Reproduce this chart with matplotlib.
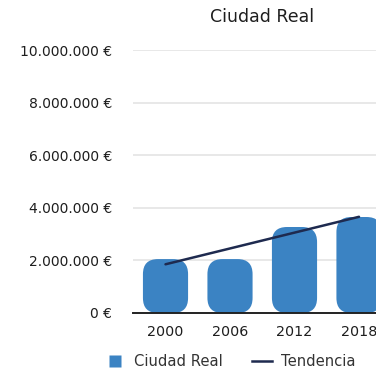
import numpy as np
import matplotlib
matplotlib.use("Agg")
import matplotlib.pyplot as plt
from matplotlib.patches import FancyBboxPatch
from matplotlib.lines import Line2D
from matplotlib.ticker import FuncFormatter

years = ["2000", "2006", "2012", "2018"]
values = [2050000, 2050000, 3270000, 3650000]
series_name = "Ciudad Real"
trend_name = "Tendencia"
title = "Ciudad Real"
y_ticks = [0, 2000000, 4000000, 6000000, 8000000, 10000000]

bar_color = "#3b83c3"
trend_color = "#1e2a4f"
text_color = "#1e1e1e"

plt.rcParams["font.family"] = ["DejaVu Sans"]

fig = plt.figure(figsize=(3.76, 3.74), dpi=100)
ax_left, ax_right = 133, 391.5
ax = fig.add_axes([ax_left / 376, 1 - 313 / 374, (ax_right - ax_left) / 376, 263 / 374])

x = np.arange(len(years))
ax.set_xlim(-0.504, len(years) - 1 + 0.504)
ax.set_ylim(0, 10000000)

# rounded bars
bar_w = 0.70
px_x = (ax_right - ax_left) / (ax.get_xlim()[1] - ax.get_xlim()[0])
px_y = 263 / 10000000
aspect = px_x / px_y
radius_px = 15
for xi, v in zip(x, values):
    patch = FancyBboxPatch((xi - bar_w / 2, 0), bar_w, v,
                           boxstyle=f"round,pad=0,rounding_size={radius_px / px_x}",
                           mutation_aspect=aspect,
                           facecolor=bar_color, edgecolor="none", zorder=2)
    ax.add_patch(patch)

# linear trend through the bar values
coef = np.polyfit(x, values, 1)
ax.plot([x[0], x[-1]], np.polyval(coef, [x[0], x[-1]]), color=trend_color,
        lw=1.8, zorder=3, solid_capstyle="round")

ax.set_yticks(y_ticks)
ax.yaxis.set_major_formatter(FuncFormatter(lambda v, p: f"{int(v):,} €".replace(",", ".")))
ax.set_xticks(x)
ax.set_xticklabels(years)
ax.tick_params(axis="both", length=0, colors=text_color)
ax.tick_params(axis="y", pad=15, labelsize=10)
ax.tick_params(axis="x", pad=9, labelsize=10.3)
ax.grid(axis="y", color="#e4e4e4", lw=1.2, zorder=0)
for s in ["top", "right", "left"]:
    ax.spines[s].set_visible(False)
ax.spines["bottom"].set_color("#222222")
ax.spines["bottom"].set_linewidth(1.4)
ax.spines["bottom"].set_zorder(4)
ax.set_axisbelow(True)

fig.text(262 / 376, 1 - 17 / 374, title, ha="center", va="center", fontsize=12.5, color=text_color)

handles = [Line2D([], [], marker="s", markersize=9, linestyle="none",
                  markerfacecolor=bar_color, markeredgecolor="none"),
           Line2D([], [], color=trend_color, lw=1.8)]
fig.legend(handles, [series_name, trend_name], loc="center", ncol=2,
           bbox_to_anchor=(230 / 376, 1 - 362 / 374), frameon=False, fontsize=10.6,
           handlelength=1.4, columnspacing=2.0, handletextpad=0.6,
           labelcolor="#333333", borderaxespad=0)

fig.savefig("out.png", dpi=100)
